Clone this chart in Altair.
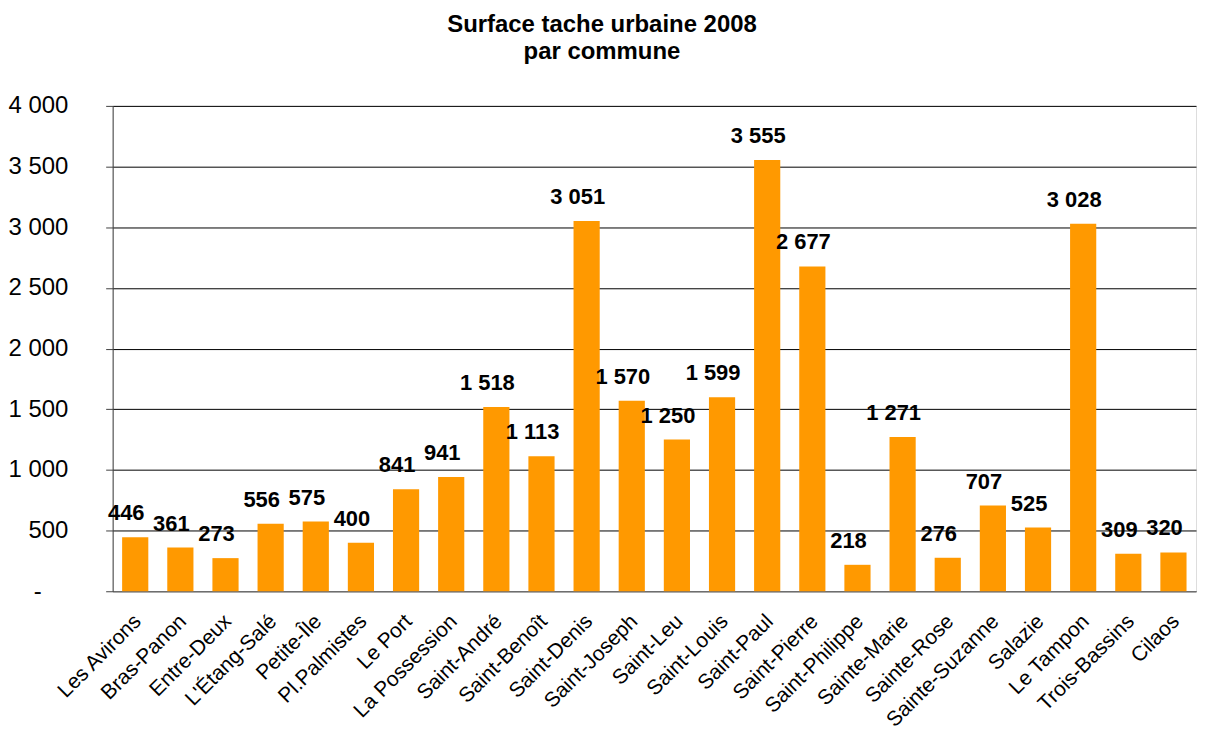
import altair as alt
import pandas as pd

communes = ["Les Avirons", "Bras-Panon", "Entre-Deux", "L'Étang-Salé", "Petite-Île",
            "Pl.Palmistes", "Le Port", "La Possession", "Saint-André", "Saint-Benoît",
            "Saint-Denis", "Saint-Joseph", "Saint-Leu", "Saint-Louis", "Saint-Paul",
            "Saint-Pierre", "Saint-Philippe", "Sainte-Marie", "Sainte-Rose",
            "Sainte-Suzanne", "Salazie", "Le Tampon", "Trois-Bassins", "Cilaos"]
surfaces = [446, 361, 273, 556, 575, 400, 841, 941, 1518, 1113, 3051, 1570, 1250,
            1599, 3555, 2677, 218, 1271, 276, 707, 525, 3028, 309, 320]
y_ticks = [0, 500, 1000, 1500, 2000, 2500, 3000, 3500, 4000]

df = pd.DataFrame({"commune": communes, "surface": surfaces})
df["label"] = df["surface"].map(lambda v: f"{v:,}".replace(",", " "))

FONT = "Liberation Sans"

x = alt.X("commune:N", sort=communes, title=None,
          scale=alt.Scale(paddingInner=0.42, paddingOuter=0.21),
          axis=alt.Axis(labelAngle=-45, labelAlign="right", labelBaseline="top",
                        labelFont=FONT, labelFontSize=21, labelColor="black",
                        labelPadding=19, labelOffset=-5, ticks=False,
                        domainColor="#808080", labelOverlap=False, labelLimit=300))
y = alt.Y("surface:Q", title=None,
          scale=alt.Scale(domain=[0, 4000], nice=False),
          axis=alt.Axis(values=y_ticks, grid=True, gridColor="black", gridWidth=1,
                        tickColor="#404040", tickSize=7, domainColor="#404040",
                        labelFont=FONT, labelFontSize=24, labelColor="black",
                        labelPadding=38,
                        labelExpr="datum.value == 0 ? '-\u00a0\u00a0\u00a0\u00a0\u200b' : replace(format(datum.value, ',d'), ',', ' ')"))

bars = alt.Chart(df).mark_bar(color="#FF9900").encode(x=x, y=y)
labels = alt.Chart(df).mark_text(font=FONT, fontSize=22, fontWeight="bold",
                                 baseline="alphabetic", dy=-17, dx=-9,
                                 color="black").encode(x=x, y=y, text="label:N")

chart = (bars + labels).properties(
    width=1087, height=487,
    title=alt.TitleParams(["Surface tache urbaine 2008", "par commune"],
                          font=FONT, fontSize=24, fontWeight="bold", color="black",
                          anchor="middle", frame="bounds", offset=30, lineHeight=27),
    autosize=alt.AutoSizeParams(type="none"),
    padding={"left": 105, "top": 97, "right": 5, "bottom": 140},
).configure_view(stroke=None).configure(background="white")

chart.save("out.html", embed_options={"renderer": "svg", "actions": False})
